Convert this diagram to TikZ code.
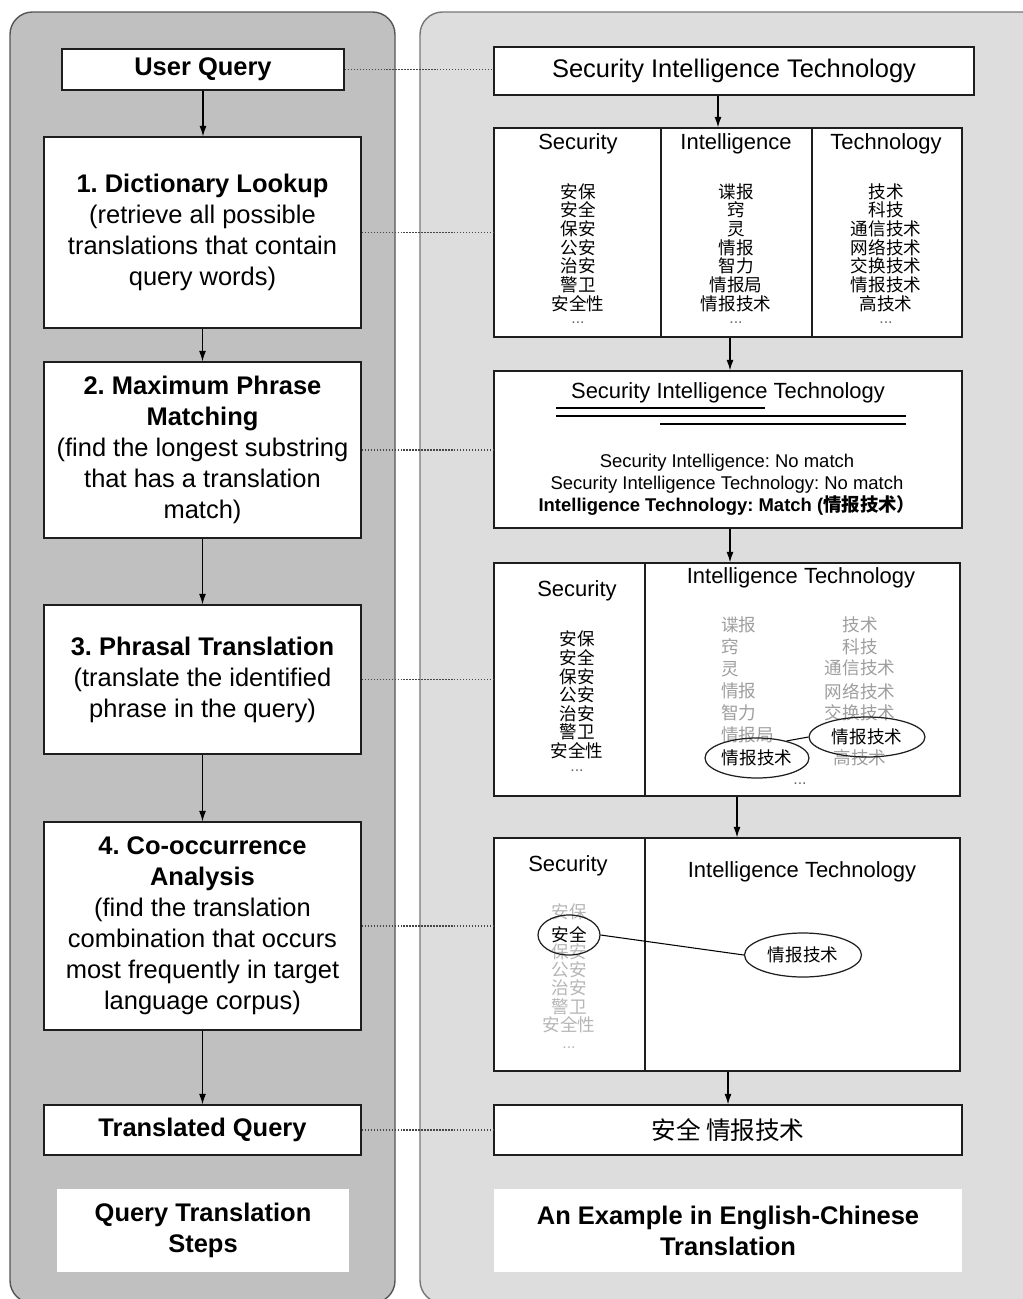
\documentclass[tikz,border=0pt]{standalone}
\usepackage{fontspec}
\setmainfont{Liberation Sans}
\newfontfamily\cjk{Noto Sans CJK SC}
\usepackage{tikz}
\usetikzlibrary{arrows.meta,shapes.geometric}
\frenchspacing
\definecolor{leftpanel}{RGB}{192,192,192}
\definecolor{rightpanel}{RGB}{221,221,221}
\definecolor{paneledge}{RGB}{85,85,85}
\definecolor{boxedge}{RGB}{30,30,30}
\definecolor{dotgray}{RGB}{70,70,70}
\definecolor{midgray}{RGB}{158,158,158}
\definecolor{palegray}{RGB}{182,182,182}
\newcommand\qtfont{\fontsize{14.5}{17.6}\selectfont}
\newcommand\hdfont{\fontsize{12.5}{15}\selectfont}
\newcommand\smfont{\fontsize{10.5}{12.5}\selectfont}
\newcommand\zhfont{\cjk\fontsize{10}{10.6}\selectfont}
\tikzset{
    stepbox/.style={draw=boxedge,fill=white,line width=0.8pt,minimum width=6.34cm,align=center,font=\qtfont,inner sep=0pt},
    exbox/.style={draw=boxedge,fill=white,line width=0.8pt,inner sep=0pt},
    panelnote/.style={fill=white,inner sep=0pt,align=center,font=\qtfont\bfseries},
    arr/.style={-{Latex[length=6pt,width=4pt]},line width=0.6pt},
    dotline/.style={densely dotted,line width=0.7pt,dotgray},
    head/.style={font=\hdfont},
    zhlist/.style={font=\zhfont,align=center},
    gtxt/.style={font=\zhfont,text=midgray,inner sep=1pt},
    ptxt/.style={font=\zhfont,text=palegray,inner sep=1pt},
    dots/.style={font=\fontsize{9}{9}\selectfont,text=black!60},
    ring/.style={ellipse,draw=boxedge,line width=0.7pt,inner sep=0pt,font=\zhfont}
}

\begin{document}
\begin{tikzpicture}[x=0.02cm,y=-0.02cm]
    \useasboundingbox (0,0) rectangle (1023,1299);
    \clip (0,0) rectangle (1023,1299);
    \draw[fill=leftpanel,draw=paneledge,line width=0.8pt,rounded corners=0.45cm] (10,12) rectangle (395,1303);
    \draw[fill=rightpanel,draw=paneledge!80,line width=0.8pt,rounded corners=0.45cm] (420,12) rectangle (1045,1303);

    % steps
    \node[stepbox,minimum width=5.64cm,minimum height=0.82cm] (userq) at (203,69.5) {\textbf{User Query}};
    \node[stepbox,minimum height=3.82cm] (dict) at (202.5,232.5) {\textbf{1. Dictionary Lookup}\\(retrieve all possible\\translations that contain\\query words)};
    \node[stepbox,minimum height=3.52cm] (maxph) at (202.5,450) {\textbf{2. Maximum Phrase}\\\textbf{Matching}\\(find the longest substring\\that has a translation\\match)};
    \node[stepbox,minimum height=2.98cm] (phrasal) at (202.5,679.5) {\textbf{3. Phrasal Translation}\\(translate the identified\\phrase in the query)};
    \node[stepbox,minimum height=4.16cm] (cooc) at (202.5,926) {\textbf{4. Co-occurrence}\\\textbf{Analysis}\\(find the translation\\combination that occurs\\most frequently in target\\language corpus)};
    \node[stepbox,minimum height=1cm] (transq) at (202.5,1130) {\textbf{Translated Query}};
    \node[panelnote,minimum width=5.84cm,minimum height=1.66cm] (steplbl) at (203,1230.5) {Query Translation\\Steps};

    \draw[arr] (userq.south) -- (userq.south |- dict.north);
    \draw[arr] (dict.south) -- (dict.south |- maxph.north);
    \draw[arr] (maxph.south) -- (maxph.south |- phrasal.north);
    \draw[arr] (phrasal.south) -- (phrasal.south |- cooc.north);
    \draw[arr] (cooc.south) -- (cooc.south |- transq.north);

    % example
    \node[exbox,minimum width=9.6cm,minimum height=0.96cm,font=\qtfont] (ex0) at (734,71) {Security Intelligence Technology};

    \node[exbox,minimum width=9.36cm,minimum height=4.18cm] (ex1) at (728,232.5) {};
    \draw[line width=0.8pt,boxedge] (ex1.north -| 661,0) -- (ex1.south -| 661,0);
    \draw[line width=0.8pt,boxedge] (ex1.north -| 812,0) -- (ex1.south -| 812,0);
    \node[head] (hs) at (578,144) {Security};
    \node[head] (hi) at (736,144) {Intelligence};
    \node[head] (ht) at (886,144) {Technology};
    \node[zhlist] (ls) at (578,247.5) {安保\\安全\\保安\\公安\\治安\\警卫\\安全性};
    \node[zhlist] (li) at (736,247.5) {谍报\\窍\\灵\\情报\\智力\\情报局\\情报技术};
    \node[zhlist] (lt) at (886,247.5) {技术\\科技\\通信技术\\网络技术\\交换技术\\情报技术\\高技术};
    \node[dots] (ds) at (578,323) {...};
    \node[dots] (di) at (736,323) {...};
    \node[dots] (dt) at (886,323) {...};

    \node[exbox,minimum width=9.36cm,minimum height=3.14cm] (ex2) at (728,449.5) {};
    \node[head] (mtitle) at (728,393) {Security Intelligence Technology};
    \draw[line width=0.6pt] (556,408) -- (765,408);
    \draw[line width=0.6pt] (556,416) -- (906,416);
    \draw[line width=0.6pt] (660,424) -- (906,424);
    \node[font=\smfont,align=center] (mres) at (727,485) {Security Intelligence: No match\\Security Intelligence Technology: No match\\\textbf{Intelligence Technology: Match ({\cjk 情报技术）}}};

    \node[exbox,minimum width=9.32cm,minimum height=4.66cm] (ex3) at (727,679.5) {};
    \draw[line width=0.8pt,boxedge] (ex3.north -| 645,0) -- (ex3.south -| 645,0);
    \node[head] (ps) at (577,591) {Security};
    \node[head] (pi) at (801,578) {Intelligence Technology};
    \node[zhlist] (pls) at (577,695) {安保\\安全\\保安\\公安\\治安\\警卫\\安全性};
    \node[dots] (pds) at (577,771) {...};
    \foreach \w [count=\i] in {谍报,窍,灵,情报,智力,情报局}
        \node[gtxt,anchor=west] (pa\i) at (719,603+22*\i) {\w};
    \foreach \w/\yy [count=\i] in {技术/625,科技/647,通信技术/668,网络技术/692,交换技术/713,高技术/758}
        \node[gtxt] (pb\i) at (860,\yy) {\w};
    \node[ring,minimum width=2.08cm,minimum height=0.8cm] (lc) at (757,758) {情报技术};
    \node[ring,minimum width=2.32cm,minimum height=0.8cm] (rc) at (867,737) {情报技术};
    \draw[line width=0.6pt] (lc.30) -- (rc.west);
    \node[dots] (pdi) at (800,784) {...};

    \node[exbox,minimum width=9.32cm,minimum height=4.66cm] (ex4) at (727,954.5) {};
    \draw[line width=1.2pt,boxedge] (ex4.north -| 645,0) -- (ex4.south -| 645,0);
    \node[head] (cs) at (568,866) {Security};
    \node[head] (ci) at (802,872) {Intelligence Technology};
    \foreach \w/\yy [count=\i] in {安保/912,保安/952,公安/970,治安/988,警卫/1007,安全性/1025}
        \node[ptxt] (qa\i) at (569,\yy) {\w};
    \node[dots,text=palegray] (qd) at (569,1048) {...};
    \node[ring,minimum width=1.24cm,minimum height=0.8cm] (lc2) at (569,935) {安全};
    \node[ring,minimum width=2.34cm,minimum height=0.88cm] (rc2) at (803,955) {情报技术};
    \draw[line width=0.6pt] (lc2.east) -- (rc2.west);

    \node[exbox,minimum width=9.36cm,minimum height=1cm,font=\cjk\fontsize{14}{16}\selectfont] (ex5) at (728,1130) {安全 情报技术};
    \node[panelnote,minimum width=9.36cm,minimum height=1.66cm] (exlbl) at (728,1230.5) {An Example in English-Chinese\\Translation};

    \draw[arr] (ex0.south -| 718,0) -- (ex1.north -| 718,0);
    \draw[arr] (ex1.south -| 730,0) -- (ex2.north -| 730,0);
    \draw[arr] (ex2.south -| 730,0) -- (ex3.north -| 730,0);
    \draw[arr] (ex3.south -| 737,0) -- (ex4.north -| 737,0);
    \draw[arr] (ex4.south -| 728,0) -- (ex5.north -| 728,0);

    \draw[dotline] (userq.east) -- (userq.east -| ex0.west);
    \draw[dotline] (dict.east) -- (dict.east -| ex1.west);
    \draw[dotline] (maxph.east) -- (maxph.east -| ex2.west);
    \draw[dotline] (phrasal.east) -- (phrasal.east -| ex3.west);
    \draw[dotline] (cooc.east) -- (cooc.east -| ex4.west);
    \draw[dotline] (transq.east) -- (transq.east -| ex5.west);
\end{tikzpicture}
\end{document}
